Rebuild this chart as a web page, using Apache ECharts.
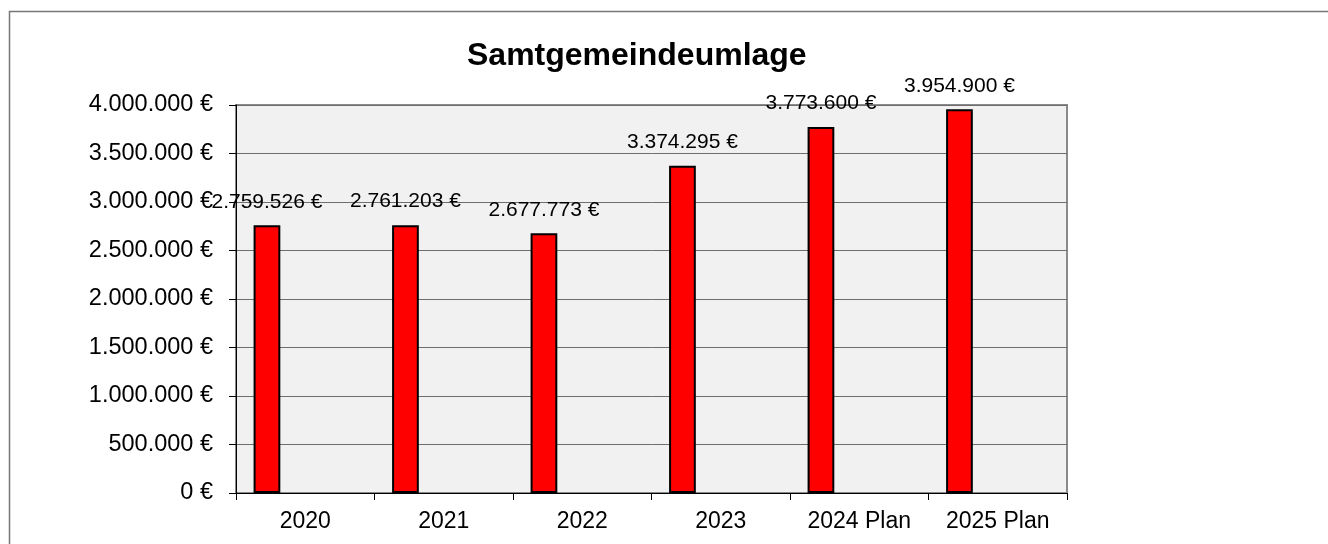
<!DOCTYPE html>
<html>
<head>
<meta charset="utf-8">
<script src="https://cdn.jsdelivr.net/npm/echarts@6/dist/echarts.min.js"></script>
<style>
  html, body { margin: 0; padding: 0; background: #fff; }
  #main { width: 1328px; height: 544px; }
</style>
</head>
<body>
<div id="main"></div>
<script>
// Daten
var categories = ['2020', '2021', '2022', '2023', '2024 Plan', '2025 Plan'];
var values = [2759526, 2761203, 2677773, 3374295, 3773600, 3954900];
var yTicks = [0, 500000, 1000000, 1500000, 2000000, 2500000, 3000000, 3500000, 4000000];

function euro(v) {
    var s = String(Math.round(v)).replace(/\B(?=(\d{3})+(?!\d))/g, '.');
    return s + ' €';
}

var chart = echarts.init(document.getElementById('main'));

var option = {
    animation: false,
    textStyle: { fontFamily: 'Liberation Sans, Arial, sans-serif' },
    title: {
        text: 'Samtgemeindeumlage',
        left: 462,
        top: 35,
        textStyle: { fontSize: 32, fontWeight: 'bold', color: '#000', fontFamily: 'Liberation Sans, Arial, sans-serif' }
    },
    graphic: [{
        type: 'rect',
        shape: { x: 9.5, y: 11.5, width: 1500, height: 700 },
        style: { fill: 'none', stroke: '#777', lineWidth: 1.5 },
        silent: true
    }],
    grid: {
        left: 236, right: 261, top: 105, bottom: 51,
        show: true,
        backgroundColor: '#f1f1f1',
        borderColor: '#8a8a8a',
        borderWidth: 2
    },
    xAxis: {
        type: 'category',
        data: categories,
        axisLine: { lineStyle: { color: '#000', width: 1 } },
        axisTick: { show: true, length: 7, lineStyle: { color: '#000' } },
        axisLabel: { color: '#000', fontSize: 23, margin: 17 }
    },
    yAxis: {
        type: 'value',
        min: yTicks[0],
        max: yTicks[yTicks.length - 1],
        interval: yTicks[1] - yTicks[0],
        axisLine: { show: true, lineStyle: { color: '#000', width: 1 } },
        axisTick: { show: true, length: 7, lineStyle: { color: '#000' } },
        axisLabel: { color: '#000', fontSize: 23.5, margin: 23, formatter: euro },
        splitLine: { lineStyle: { color: '#6e6e6e', width: 1 } }
    },
    series: [{
        type: 'bar',
        data: values,
        barWidth: '19.3%',
        barGap: 0,
        itemStyle: { color: '#ff0000', borderColor: '#000', borderWidth: 2 },
        label: {
            show: true,
            position: 'top',
            distance: 13,
            color: '#000',
            fontSize: 21,
            formatter: function (p) { return euro(p.value); }
        }
    }, {
        // leere Reihe, damit die Balken links in der Kategorie sitzen
        type: 'bar',
        data: [],
        barWidth: '55.3%',
        silent: true
    }]
};

chart.setOption(option);
</script>
</body>
</html>
